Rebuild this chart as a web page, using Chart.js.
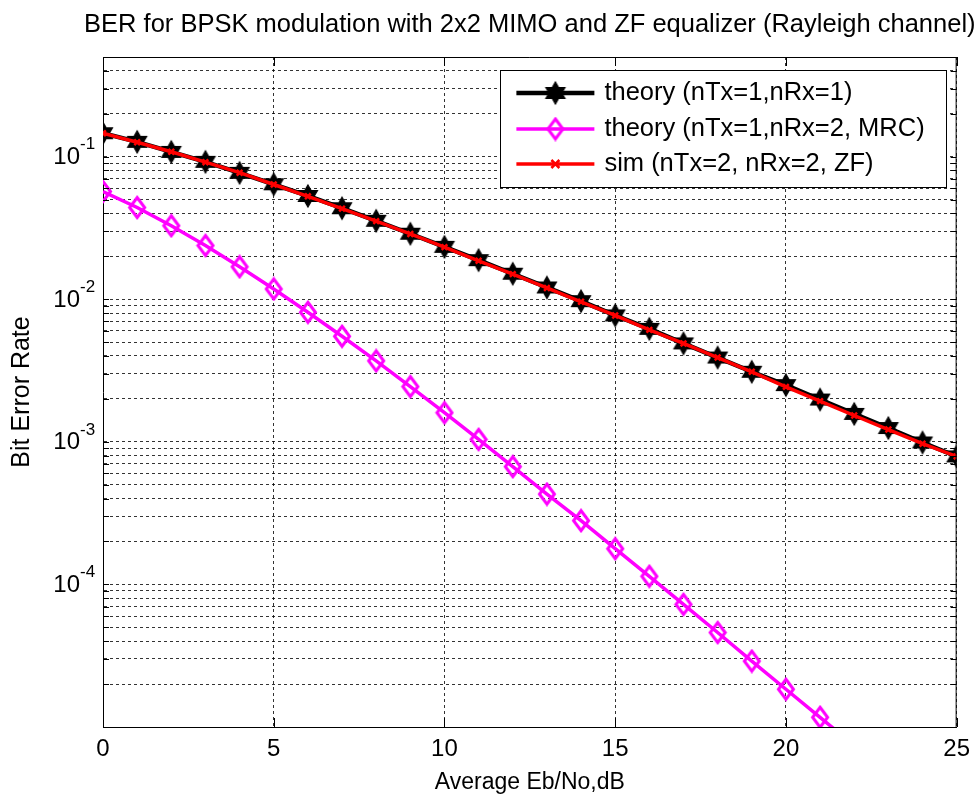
<!DOCTYPE html>
<html>
<head>
<meta charset="utf-8">
<script src="https://cdn.jsdelivr.net/npm/chart.js@4.4.0/dist/chart.umd.min.js"></script>
<style>
  body { margin: 0; background: #fff; }
  canvas { display: block; }
</style>
</head>
<body>
<canvas id="berChart" width="978" height="794"></canvas>
<script>
// --- dados ---
const ebNo = [0, 1, 2, 3, 4, 5, 6, 7, 8, 9, 10, 11, 12, 13, 14, 15, 16, 17, 18, 19, 20, 21, 22, 23, 24, 25];
const berTheory1 = [0.146, 0.127, 0.108, 0.092, 0.077, 0.064, 0.053, 0.0435, 0.0355, 0.0288, 0.0233,
  0.0188, 0.0151, 0.0121, 0.0097, 0.0077, 0.0062, 0.0049, 0.0039, 0.0031, 0.0025, 0.00198, 0.00157,
  0.00125, 0.00099, 0.00079];
const berTheoryMrc = [0.057, 0.044, 0.0328, 0.0238, 0.0169, 0.0118, 0.0081, 0.0055, 0.0037, 0.00244,
  0.0016, 0.00104, 0.00067, 0.00043, 0.00028, 0.000178, 0.000114, 0.0000724, 0.000046, 0.000029,
  0.0000184, 0.0000117, 0.0000074, 0.0000047, 0.000003, 0.0000019];
const berSimZf = [0.1458, 0.1262, 0.1082, 0.0915, 0.0772, 0.0638, 0.0527, 0.0432, 0.0353, 0.0287,
  0.0232, 0.0186, 0.0150, 0.0120, 0.0096, 0.0077, 0.0061, 0.0049, 0.0039, 0.0031, 0.00243, 0.00193,
  0.00153, 0.00122, 0.00097, 0.00079];

const seriesLabels = ['theory (nTx=1,nRx=1)', 'theory (nTx=1,nRx=2, MRC)', 'sim (nTx=2, nRx=2, ZF)'];
const xTicks = [0, 5, 10, 15, 20, 25];
const yDecades = [1e-5, 1e-4, 1e-3, 1e-2, 1e-1];
const yMinorSteps = [1, 2, 3, 4, 5, 6, 7, 8, 9];
const yLabelExps = [-1, -2, -3, -4];
const yMin = 1e-5;
const yMax = 0.5;

const FONT = "'Liberation Sans', Arial, sans-serif";
const GRID = 'rgba(0, 0, 0, 0.8)';

// valores das linhas de grade do eixo log (1..9 x 10^k)
const yGridValues = [];
yDecades.forEach(d => yMinorSteps.forEach(m => {
  const v = +(d * m).toPrecision(3);
  if (v >= yMin && v <= yMax) yGridValues.push(v);
}));

// marcador hexagrama (estrela de 6 pontas) preenchido
function makeHexagram(R, color) {
  const c = document.createElement('canvas');
  const s = Math.ceil(R * 2 + 4);
  c.width = s; c.height = s;
  const g = c.getContext('2d');
  const r = R / Math.sqrt(3);
  g.beginPath();
  for (let i = 0; i < 12; i++) {
    const ang = -Math.PI / 2 + i * Math.PI / 6;
    const rad = i % 2 === 0 ? R : r;
    const px = s / 2 + Math.cos(ang) * rad, py = s / 2 + Math.sin(ang) * rad;
    i === 0 ? g.moveTo(px, py) : g.lineTo(px, py);
  }
  g.closePath();
  g.fillStyle = color; g.fill();
  g.lineWidth = 1.2; g.strokeStyle = color; g.stroke();
  return c;
}

// marcador losango vazado (mais alto que largo, como no MATLAB)
function makeDiamond(hw, hh, color, lw) {
  const c = document.createElement('canvas');
  const w = Math.ceil(hw * 2 + lw + 2), h = Math.ceil(hh * 2 + lw + 2);
  c.width = w; c.height = h;
  const g = c.getContext('2d');
  g.beginPath();
  g.moveTo(w / 2, h / 2 - hh);
  g.lineTo(w / 2 + hw, h / 2);
  g.lineTo(w / 2, h / 2 + hh);
  g.lineTo(w / 2 - hw, h / 2);
  g.closePath();
  g.lineWidth = lw; g.strokeStyle = color; g.stroke();
  return c;
}

const hexMarker = makeHexagram(11, '#000');
const diamondMarker = makeDiamond(7.5, 10, '#ff00ff', 3);

// moldura, marcas internas, rótulos 10^x, título e legenda no estilo MATLAB
const matlabAxes = {
  id: 'matlabAxes',
  afterDraw(chart) {
    const { ctx, chartArea: a, scales: { x, y } } = chart;
    ctx.save();
    ctx.strokeStyle = '#000';
    ctx.lineWidth = 1;
    ctx.beginPath();
    ctx.moveTo(a.left, a.top + 0.5); ctx.lineTo(a.right, a.top + 0.5);
    ctx.moveTo(a.right - 0.5, a.top); ctx.lineTo(a.right - 0.5, a.bottom);
    // marcas do eixo x (embaixo e em cima)
    xTicks.forEach(v => {
      const px = Math.round(x.getPixelForValue(v)) + 0.5;
      ctx.moveTo(px, a.bottom); ctx.lineTo(px, a.bottom - 9);
      ctx.moveTo(px, a.top); ctx.lineTo(px, a.top + 9);
    });
    // marcas do eixo y (esquerda e direita)
    yGridValues.forEach(v => {
      const py = Math.round(y.getPixelForValue(v)) + 0.5;
      ctx.moveTo(a.left, py); ctx.lineTo(a.left + 6, py);
      ctx.moveTo(a.right, py); ctx.lineTo(a.right - 6, py);
    });
    ctx.stroke();

    // rótulos 10^-n
    ctx.fillStyle = '#000';
    yLabelExps.forEach(e => {
      const py = y.getPixelForValue(Math.pow(10, e));
      ctx.font = '24px ' + FONT;
      ctx.textAlign = 'right';
      ctx.textBaseline = 'middle';
      ctx.fillText('10', a.left - 23, py + 1);
      ctx.font = '17px ' + FONT;
      ctx.textAlign = 'left';
      ctx.fillText(String(e), a.left - 23, py - 12);
    });

    // título centrado sobre os eixos
    ctx.font = '25.5px ' + FONT;
    ctx.textAlign = 'center';
    ctx.textBaseline = 'middle';
    ctx.fillText('BER for BPSK modulation with 2x2 MIMO and ZF equalizer (Rayleigh channel)', (a.left + a.right) / 2, 25);

    // legenda
    ctx.font = '25.5px ' + FONT;
    const textW = Math.max(...seriesLabels.map(t => ctx.measureText(t).width));
    const boxRight = a.right - 10, boxTop = a.top + 13;
    const lineLen = 78, padL = 16, gap = 10, padR = 22;
    const boxLeft = boxRight - (padL + lineLen + gap + textW + padR);
    const rows = [23, 59, 94];
    ctx.fillStyle = '#fff';
    ctx.fillRect(boxLeft, boxTop, boxRight - boxLeft, 117);
    ctx.strokeStyle = '#000';
    ctx.lineWidth = 1;
    ctx.strokeRect(Math.round(boxLeft) + 0.5, boxTop + 0.5, Math.round(boxRight - boxLeft), 117);

    chart.data.datasets.forEach((ds, i) => {
      const ly = boxTop + rows[i];
      const lx0 = boxLeft + padL, lx1 = lx0 + lineLen, mx = (lx0 + lx1) / 2;
      ctx.strokeStyle = ds.borderColor;
      ctx.lineWidth = ds.borderWidth;
      ctx.beginPath(); ctx.moveTo(lx0, ly); ctx.lineTo(lx1, ly); ctx.stroke();
      if (ds.pointStyle instanceof HTMLCanvasElement) {
        ctx.drawImage(ds.pointStyle, mx - ds.pointStyle.width / 2, ly - ds.pointStyle.height / 2);
      } else {
        const r = ds.pointRadius;
        ctx.lineWidth = ds.pointBorderWidth;
        ctx.strokeStyle = ds.pointBorderColor;
        ctx.beginPath();
        ctx.moveTo(mx - r, ly - r); ctx.lineTo(mx + r, ly + r);
        ctx.moveTo(mx - r, ly + r); ctx.lineTo(mx + r, ly - r);
        ctx.stroke();
      }
      ctx.fillStyle = '#000';
      ctx.textAlign = 'left';
      ctx.textBaseline = 'middle';
      ctx.fillText(seriesLabels[i], lx1 + gap, ly);
    });
    ctx.restore();
  }
};

const toPoints = vals => ebNo.map((v, i) => ({ x: v, y: vals[i] }));

new Chart(document.getElementById('berChart'), {
  type: 'line',
  data: {
    datasets: [
      { label: seriesLabels[0], data: toPoints(berTheory1), borderColor: '#000', borderWidth: 4.5,
        pointStyle: hexMarker, pointRadius: 11, order: 2 },
      { label: seriesLabels[1], data: toPoints(berTheoryMrc), borderColor: '#ff00ff', borderWidth: 3.5,
        pointStyle: diamondMarker, pointRadius: 11, order: 1 },
      { label: seriesLabels[2], data: toPoints(berSimZf), borderColor: '#ff0000', borderWidth: 3.5,
        pointStyle: 'crossRot', pointRadius: 4, pointBorderWidth: 2.5, pointBorderColor: '#ff0000',
        pointBackgroundColor: '#ff0000', order: 0 }
    ]
  },
  options: {
    responsive: false,
    animation: false,
    devicePixelRatio: 1,
    layout: { padding: { top: 57, right: 19, left: 0, bottom: 0 } },
    elements: { line: { tension: 0 } },
    plugins: {
      legend: { display: false },
      title: { display: false },
      tooltip: { enabled: false }
    },
    scales: {
      x: {
        type: 'linear', min: 0, max: 25,
        afterBuildTicks: s => { s.ticks = xTicks.map(v => ({ value: v })); },
        grid: { color: GRID, lineWidth: 1, drawTicks: false },
        border: { display: true, color: '#000', width: 1, dash: [3, 3] },
        ticks: { font: { family: FONT, size: 24 }, color: '#000', padding: 8, maxRotation: 0 },
        title: { display: true, text: 'Average Eb/No,dB', color: '#000',
          font: { family: FONT, size: 23, lineHeight: 1 }, padding: { top: 0, bottom: 0 } },
        afterFit: s => { s.height = 67; }
      },
      y: {
        type: 'logarithmic', min: yMin, max: yMax,
        afterBuildTicks: s => { s.ticks = yGridValues.map(v => ({ value: v })); },
        grid: { color: GRID, lineWidth: 1, drawTicks: false },
        border: { display: true, color: '#000', width: 1, dash: [3, 3] },
        ticks: { display: false },
        title: { display: true, text: 'Bit Error Rate', color: '#000',
          font: { family: FONT, size: 25, lineHeight: 1 }, padding: { top: 10, bottom: 0 } },
        afterFit: s => { s.width = 103; }
      }
    }
  },
  plugins: [matlabAxes]
});
</script>
</body>
</html>
